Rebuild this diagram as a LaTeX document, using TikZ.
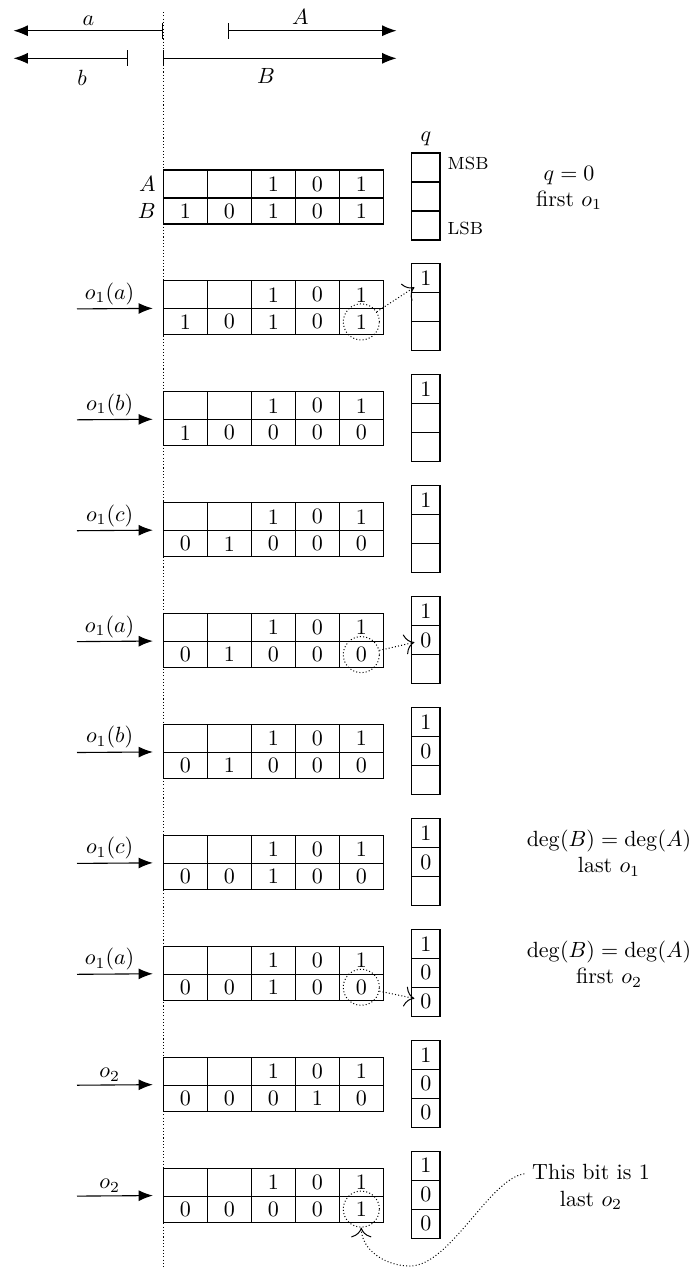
\documentclass[tikz,border=0pt]{standalone}
\usetikzlibrary{arrows.meta,calc}
\begin{document}
\begin{tikzpicture}[x=0.4545pt, y=-0.4545pt, line width=0.5pt,
  cellA/.style={draw, minimum width=20pt, minimum height=12.7pt, inner sep=0pt},
  cellB/.style={draw, minimum width=20pt, minimum height=11.8pt, inner sep=0pt},
  qcell/.style={draw, minimum width=12.9pt, minimum height=13.2pt, inner sep=0pt},
  inarrow/.style={-{Latex[length=6.5pt,width=5pt]}},
  dimarrow/.style={{Bar[width=7.3pt]}-{Latex[length=6.5pt,width=5pt]}},
  bitcirc/.style={circle, draw, densely dotted, line width=0.45pt, minimum size=16.4pt, inner sep=0pt},
  link/.style={densely dotted, line width=0.45pt, -{To[scale=1.7]}},
  note/.style={align=center}
]
\useasboundingbox (0,0) rectangle (696,1270);

% vertical dotted separator
\coordinate (vt) at (163.3,12);
\coordinate (vb) at (163.3,1268);
\draw[densely dotted] (vt) -- (vb);

% top dimension arrows
\coordinate (aR) at (163.3,30.7);
\coordinate (aL) at (13.5,30.7);
\coordinate (AL) at (228,30.7);
\coordinate (AR) at (396.5,30.7);
\coordinate (bR) at (128,58.3);
\coordinate (bL) at (13.5,58.3);
\coordinate (BL) at (163.3,58.3);
\coordinate (BR) at (396.5,58.3);
\draw[dimarrow] (aR) -- (aL) node[pos=0.5, above, inner sep=2.2pt] {$a$};
\draw[dimarrow] (AL) -- (AR) node[pos=0.43, above, inner sep=2.5pt] {$A$};
\draw[dimarrow] (bR) -- (bL) node[pos=0.4, below, inner sep=5pt] {$b$};
\draw[dimarrow] (BL) -- (BR) node[pos=0.44, below, inner sep=4.5pt] {$B$};

% blocks
\foreach \k/\lab/\b/\q in {
  0/{}/{1,0,1,0,1}/{n,n,n},
  1/{o_1(a)}/{1,0,1,0,1}/{1,n,n},
  2/{o_1(b)}/{1,0,0,0,0}/{1,n,n},
  3/{o_1(c)}/{0,1,0,0,0}/{1,n,n},
  4/{o_1(a)}/{0,1,0,0,0}/{1,0,n},
  5/{o_1(b)}/{0,1,0,0,0}/{1,0,n},
  6/{o_1(c)}/{0,0,1,0,0}/{1,0,n},
  7/{o_1(a)}/{0,0,1,0,0}/{1,0,0},
  8/{o_2}/{0,0,0,1,0}/{1,0,0},
  9/{o_2}/{0,0,0,0,1}/{1,0,0}}{
  \pgfmathsetmacro\T{170+110.9*\k}
  \foreach \d [count=\i] in {n,n,1,0,1}{
    \node[cellA] (a\k-\i) at (141.3+44*\i, \T+14) {\if n\d\else\d\fi};
  }
  \foreach \d [count=\i] in \b {
    \node[cellB] (b\k-\i) at (141.3+44*\i, \T+41) {\d};
  }
  \foreach \d [count=\i] in \q {
    \node[qcell] (q\k-\i) at (425.85, \T-31.5+29*\i) {\if n\d\else\d\fi};
  }
  \ifnum\k>0
    \coordinate (in\k) at (77, \T+28);
    \draw[inarrow] (in\k) -- ([xshift=-4.5pt]b\k-1.north west)
      node[pos=0.43, above, inner sep=1.5pt] {$\lab$};
  \fi
}

% labels of first block
\node[anchor=east, inner sep=3pt] (lA) at (a0-1.west) {$A$};
\node[anchor=east, inner sep=3pt] (lB) at (b0-1.west) {$B$};
\node[anchor=south, inner sep=3pt] (lq) at (q0-1.north) {$q$};
\node[anchor=west, inner sep=3pt, font=\footnotesize] (msb) at ([yshift=1.7pt]q0-1.east) {MSB};
\node[anchor=west, inner sep=3pt, font=\footnotesize] (lsb) at ([yshift=-1.5pt]q0-3.east) {LSB};

% circled bits
\foreach \k in {1,4,7,9}{
  \node[bitcirc] (c\k) at (b\k-5) {};
}
\draw[link] (c1) -- ([xshift=1.5pt,yshift=-4pt]q1-1.west);
\draw[link] (c4) -- ([xshift=1.5pt,yshift=-1pt]q4-2.west);
\draw[link] (c7) -- ([xshift=1.5pt,yshift=1.5pt]q7-3.west);

% notes
\node[note] (t0) at (569,188) {$q=0$\\ first $o_1$};
\node[note] (t6) at (609,853) {$\deg(B)=\deg(A)$\\ last $o_1$};
\node[note] (t7) at (609,964) {$\deg(B)=\deg(A)$\\ first $o_2$};
\node[note] (t9) at (591,1187) {This bit is 1\\ last $o_2$};

\coordinate (bend) at (410,1266);
\draw[link] ([yshift=6pt]t9.west) .. controls +(-35,5) and +(40,0) .. (bend)
  .. controls +(-25,0) and +(0,22) .. (c9.south);
\end{tikzpicture}
\end{document}
